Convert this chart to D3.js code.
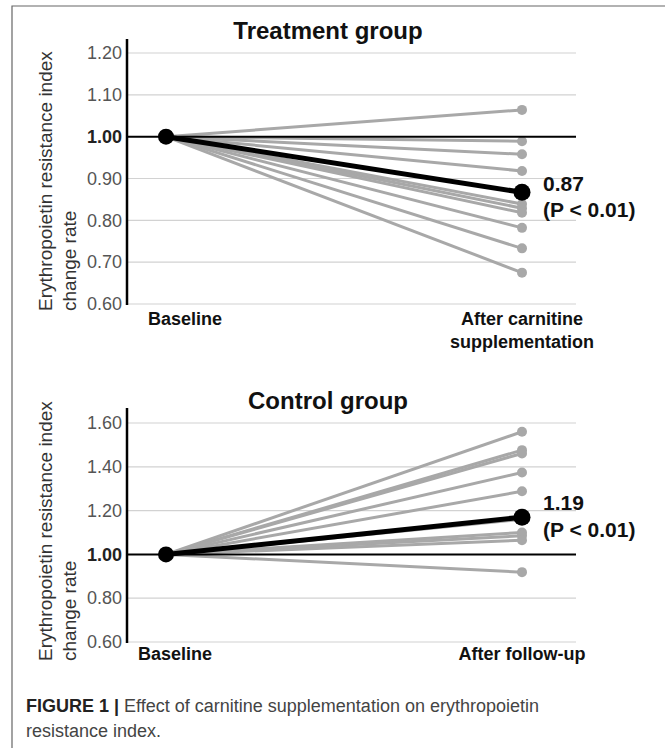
<!DOCTYPE html>
<html>
<head>
<meta charset="utf-8">
<script src="https://cdn.jsdelivr.net/npm/d3@7"></script>
<style>
  body { margin: 0; background: #fff; }
  svg { display: block; font-family: "Liberation Sans", Arial, sans-serif; }
</style>
</head>
<body>
<svg width="665" height="748"></svg>
<script>
// values
var treatmentCategories = ["Baseline", "After carnitine supplementation"];
var treatmentEnd = [1.064, 0.989, 0.958, 0.918, 0.839, 0.829, 0.818, 0.782, 0.733, 0.675];
var treatmentMean = 0.867;
var treatmentTicks = [0.6, 0.7, 0.8, 0.9, 1.0, 1.1, 1.2];

var controlCategories = ["Baseline", "After follow-up"];
var controlEnd = [1.56, 1.476, 1.461, 1.374, 1.288, 1.16, 1.10, 1.085, 1.065, 0.919];
var controlMean = 1.17;
var controlTicks = [0.6, 0.8, 1.0, 1.2, 1.4, 1.6];

var meanLabels = ["0.87", "1.19"];
var pLabel = "(P < 0.01)";
var yTitle = ["Erythropoietin resistance index", "change rate"];

var svg = d3.select("svg");
const grey = "#a8a8a8";

// frame
svg.append("path")
    .attr("d", "M12,748V6H665")
    .attr("fill", "none")
    .attr("stroke", "#666")
    .attr("stroke-width", 1.2);

function panel(o) {
    const g = svg.append("g");
    const x = d3.scalePoint().domain(o.cats).range([166, 522]);
    const y = d3.scaleLinear().domain([0.6, o.ticks[o.ticks.length - 1]]).range(o.yRange);

    // gridlines
    g.selectAll("line.grid")
        .data(o.ticks.filter(d => Math.abs(d - 1) > 1e-6))
        .enter().append("line")
        .attr("x1", 127).attr("x2", 576)
        .attr("y1", d => y(d)).attr("y2", d => y(d))
        .attr("stroke", "#d2d2d2").attr("stroke-width", 1.2);

    // y axis labels
    const yAxis = d3.axisLeft(y).tickValues(o.ticks).tickSize(0).tickPadding(5)
        .tickFormat(d3.format(".2f"));
    const ax = g.append("g").attr("transform", "translate(127,0)").call(yAxis);
    ax.select(".domain").remove();
    ax.selectAll("text")
        .style("font-family", "Liberation Sans, Arial, sans-serif")
        .style("font-size", "18px")
        .attr("fill", d => Math.abs(d - 1) < 1e-6 ? "#222" : "#555")
        .style("font-weight", d => Math.abs(d - 1) < 1e-6 ? "bold" : "normal");

    g.append("line")
        .attr("x1", 127).attr("x2", 127)
        .attr("y1", o.axisTop).attr("y2", y(0.6) + 1)
        .attr("stroke", "#000").attr("stroke-width", 2.5);

    // individual patients
    g.selectAll("line.pt")
        .data(o.end).enter().append("line")
        .attr("x1", x(o.cats[0])).attr("y1", y(1))
        .attr("x2", x(o.cats[1])).attr("y2", d => y(d))
        .attr("stroke", grey).attr("stroke-width", 3);
    g.selectAll("circle.pt")
        .data(o.end).enter().append("circle")
        .attr("cx", x(o.cats[1])).attr("cy", d => y(d))
        .attr("r", 5).attr("fill", grey);

    // reference line at 1.00
    g.append("line")
        .attr("x1", 127).attr("x2", 576)
        .attr("y1", y(1)).attr("y2", y(1))
        .attr("stroke", "#000").attr("stroke-width", 2);

    // mean
    g.append("line")
        .attr("x1", x(o.cats[0])).attr("y1", y(1))
        .attr("x2", x(o.cats[1])).attr("y2", y(o.mean))
        .attr("stroke", "#000").attr("stroke-width", 5);
    g.append("circle").attr("cx", x(o.cats[0])).attr("cy", y(1)).attr("r", 8).attr("fill", "#000");
    g.append("circle").attr("cx", x(o.cats[1])).attr("cy", y(o.mean)).attr("r", 8.5).attr("fill", "#000");

    g.append("text")
        .attr("x", x(o.cats[1]) + 21).attr("y", y(o.mean) + o.labDy[0])
        .attr("font-size", 21).attr("font-weight", "bold").attr("fill", "#111")
        .text(o.meanLabel);
    g.append("text")
        .attr("x", x(o.cats[1]) + 21).attr("y", y(o.mean) + o.labDy[1])
        .attr("font-size", 21).attr("font-weight", "bold").attr("fill", "#111")
        .text(pLabel);

    // title
    g.append("text")
        .attr("x", 328).attr("y", o.titleY)
        .attr("text-anchor", "middle")
        .attr("font-size", 24).attr("font-weight", "bold").attr("fill", "#111")
        .text(o.title);

    // y title
    const yt = g.append("text")
        .attr("transform", `translate(52,${o.yTitleBottom}) rotate(-90)`)
        .attr("font-size", 19).attr("fill", "#333");
    yt.append("tspan").attr("x", 0).attr("dy", 0).text(yTitle[0]);
    yt.append("tspan").attr("x", 0).attr("dy", 24).text(yTitle[1]);

    // category labels
    g.append("text")
        .attr("x", o.baseX).attr("y", o.catY)
        .attr("font-size", 18).attr("font-weight", "bold").attr("fill", "#111")
        .text(o.cats[0]);
    const ct = g.append("text")
        .attr("x", x(o.cats[1])).attr("y", o.catY)
        .attr("text-anchor", "middle")
        .attr("font-size", 18).attr("font-weight", "bold").attr("fill", "#111");
    o.catLines.forEach((w, i) => {
        ct.append("tspan").attr("x", x(o.cats[1])).attr("dy", i ? 23 : 0).text(w);
    });
}

panel({
    cats: treatmentCategories, end: treatmentEnd, mean: treatmentMean,
    ticks: treatmentTicks, yRange: [304, 53], axisTop: 39,
    meanLabel: meanLabels[0], labDy: [-1, 25],
    title: "Treatment group", titleY: 39, yTitleBottom: 311,
    baseX: 148, catY: 325, catLines: ["After carnitine", "supplementation"]
});

panel({
    cats: controlCategories, end: controlEnd, mean: controlMean,
    ticks: controlTicks, yRange: [642, 423], axisTop: 408,
    meanLabel: meanLabels[1], labDy: [-7, 20],
    title: "Control group", titleY: 409, yTitleBottom: 661,
    baseX: 138, catY: 660, catLines: ["After follow-up"]
});

// caption
const cap = svg.append("text").attr("x", 26).attr("y", 712)
    .attr("font-size", 18).attr("fill", "#444");
cap.append("tspan").attr("font-weight", "bold").attr("fill", "#222").text("FIGURE 1 | ");
cap.append("tspan").text("Effect of carnitine supplementation on erythropoietin");
svg.append("text").attr("x", 26).attr("y", 737)
    .attr("font-size", 18).attr("fill", "#444")
    .text("resistance index.");
</script>
</body>
</html>
